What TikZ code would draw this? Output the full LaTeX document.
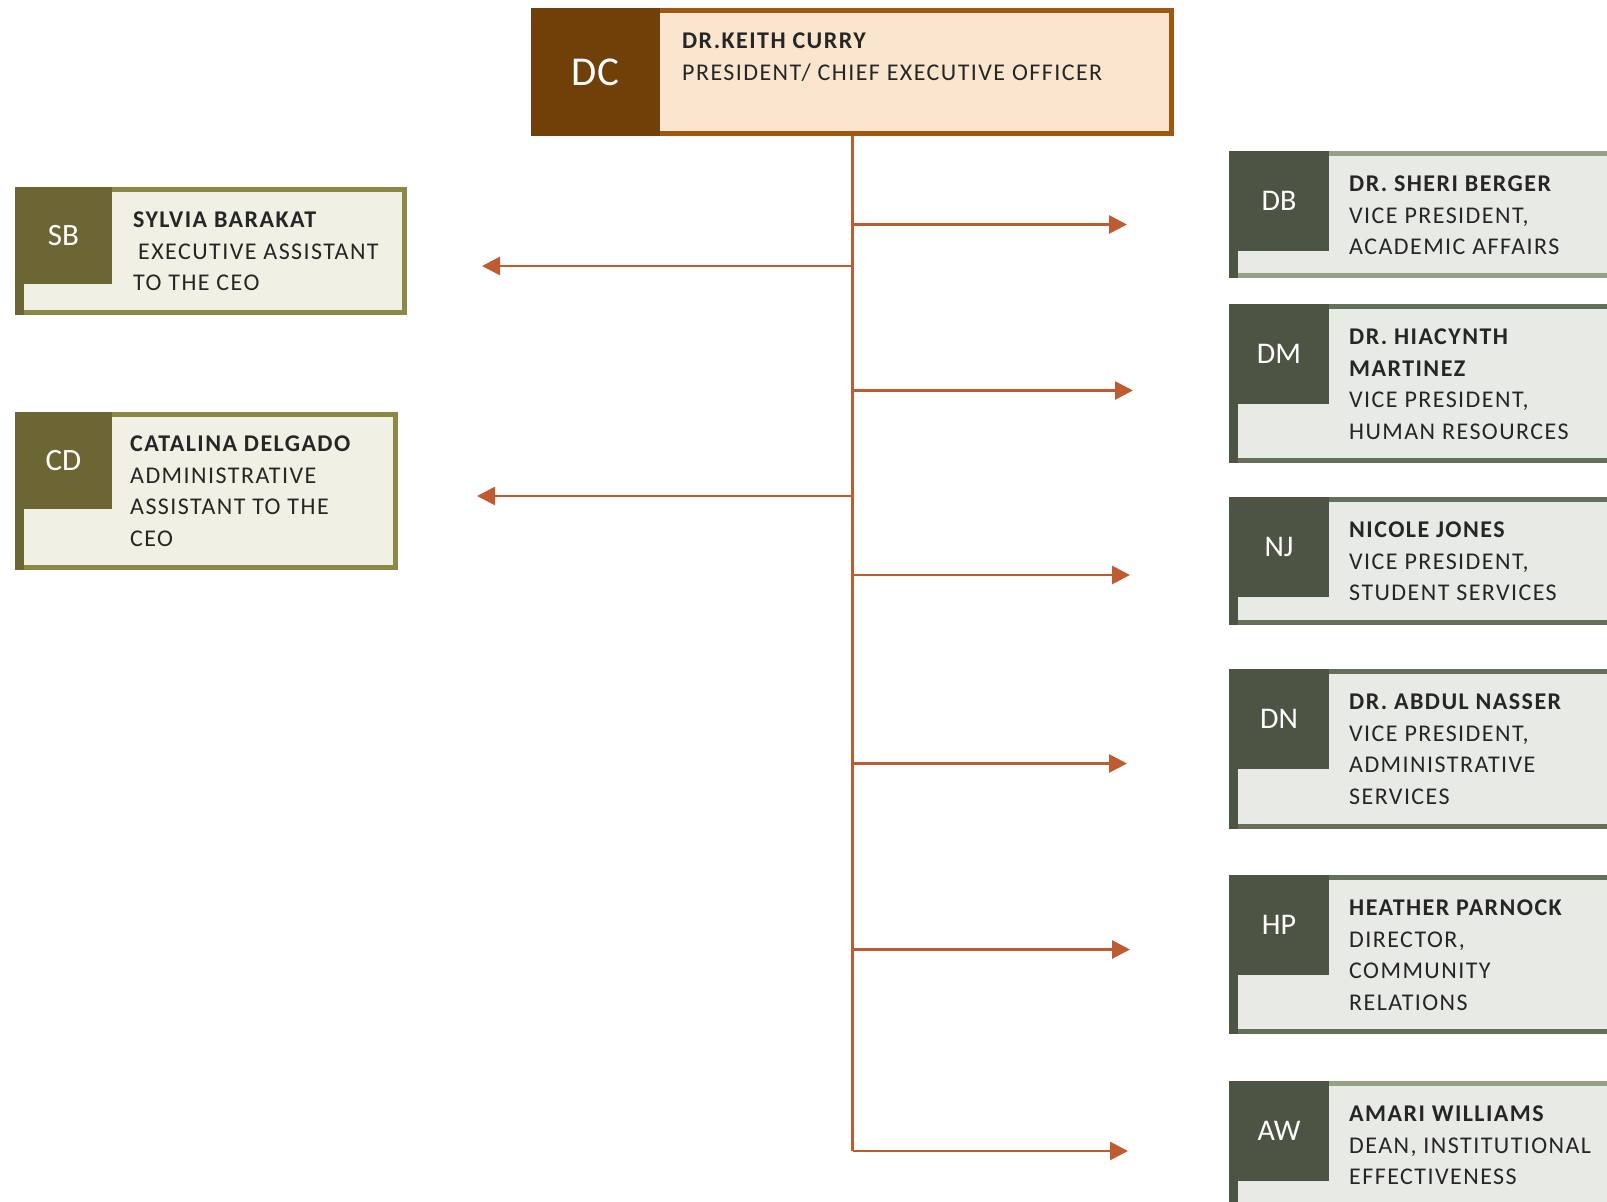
\documentclass[tikz,border=0pt]{standalone}
\usepackage{fontspec, tikz, xcolor}
\usetikzlibrary{arrows.meta, calc}
\newfontfamily\chartfont{Carlito}[LetterSpace=6]
\newfontfamily\tagfont{Carlito}
\definecolor{ceodark}{RGB}{112,64,8}
\definecolor{ceoline}{RGB}{158,88,18}
\definecolor{ceofill}{RGB}{250,230,206}
\definecolor{aidedark}{RGB}{107,102,52}
\definecolor{aideline}{RGB}{140,136,70}
\definecolor{aidefill}{RGB}{240,240,228}
\definecolor{vpdark}{RGB}{76,85,68}
\definecolor{vpline}{RGB}{100,112,90}
\definecolor{vplight}{RGB}{150,160,134}
\definecolor{vpfill}{RGB}{232,234,229}
\definecolor{wirec}{RGB}{190,91,49}
\definecolor{ink}{RGB}{38,38,38}
\tikzset{box/.style = {anchor=north west, inner sep=0pt, outer sep=2.5pt, line width=5pt}}
\tikzset{ceo/.style = {box, draw=ceoline, fill=ceofill}}
\tikzset{aide/.style = {box, draw=aideline, fill=aidefill}}
\tikzset{vp/.style = {box, draw=vpline, fill=vpfill, minimum width=420pt}}
\tikzset{tag/.style = {anchor=north west, inner sep=0pt, outer sep=0pt, text=white}}
\tikzset{aidetag/.style = {tag, fill=aidedark, minimum size=97pt, font=\tagfont\fontsize{31pt}{31pt}\selectfont}}
\tikzset{vptag/.style = {tag, fill=vpdark, minimum size=100pt, font=\tagfont\fontsize{30pt}{30pt}\selectfont}}
\tikzset{info/.style = {anchor=north west, inner sep=0pt, align=left, text=ink, font=\chartfont\fontsize{24pt}{31.5pt}\selectfont}}
\tikzset{wire/.style = {draw=wirec, line width=2.8pt}}
\tikzset{arrow/.style = {wire, -{Triangle[length=18pt, width=18pt]}}}

\begin{document}
    \begin{tikzpicture}[x=1pt, y=-1pt]
        \useasboundingbox (0,0) rectangle (1607,1202);
        \clip (0,0) rectangle (1607,1202);
        \node[ceo, minimum width=638pt, minimum height=123pt] (DC) at (531,8) {};
        \node[tag, fill=ceodark, minimum width=129pt, minimum height=128pt, font=\tagfont\fontsize{41pt}{41pt}\selectfont] (DCi) at (DC.north west) {DC};
        \node[info] (DCt) at ([shift={(151,25)}]DC.north west) {\textbf{DR.KEITH CURRY}\\PRESIDENT/ CHIEF EXECUTIVE OFFICER};

        \node[aide, minimum width=387pt, minimum height=123pt] (SB) at (15,187) {};
        \fill[aidedark] (SB.north west) rectangle ([xshift=9pt]SB.south west);
        \node[aidetag] (SBi) at (SB.north west) {SB};
        \node[info] (SBt) at ([shift={(118,25)}]SB.north west) {\textbf{SYLVIA BARAKAT}\\\hspace*{5pt}EXECUTIVE ASSISTANT\\TO THE CEO};

        \node[aide, minimum width=378pt, minimum height=153pt] (CD) at (15,412) {};
        \fill[aidedark] (CD.north west) rectangle ([xshift=9pt]CD.south west);
        \node[aidetag] (CDi) at (CD.north west) {CD};
        \node[info] (CDt) at ([shift={(115,24)}]CD.north west) {\textbf{CATALINA DELGADO}\\ADMINISTRATIVE\\ASSISTANT TO THE\\CEO};

        \node[vp, draw=vplight, minimum height=122pt] (DB) at (1229,151) {};
        \fill[vpdark] (DB.north west) rectangle ([xshift=9pt]DB.south west);
        \node[vptag] (DBi) at (DB.north west) {DB};
        \node[info] (DBt) at ([shift={(120,25)}]DB.north west) {\textbf{DR. SHERI BERGER}\\VICE PRESIDENT,\\ACADEMIC AFFAIRS};

        \node[vp, minimum height=154pt] (DM) at (1229,304) {};
        \fill[vpdark] (DM.north west) rectangle ([xshift=9pt]DM.south west);
        \node[vptag] (DMi) at (DM.north west) {DM};
        \node[info] (DMt) at ([shift={(120,25)}]DM.north west) {\textbf{DR. HIACYNTH}\\\textbf{MARTINEZ}\\VICE PRESIDENT,\\HUMAN RESOURCES};

        \node[vp, minimum height=123pt] (NJ) at (1229,497) {};
        \fill[vpdark] (NJ.north west) rectangle ([xshift=9pt]NJ.south west);
        \node[vptag] (NJi) at (NJ.north west) {NJ};
        \node[info] (NJt) at ([shift={(120,25)}]NJ.north west) {\textbf{NICOLE JONES}\\VICE PRESIDENT,\\STUDENT SERVICES};

        \node[vp, minimum height=155pt] (DN) at (1229,669) {};
        \fill[vpdark] (DN.north west) rectangle ([xshift=9pt]DN.south west);
        \node[vptag] (DNi) at (DN.north west) {DN};
        \node[info] (DNt) at ([shift={(120,25)}]DN.north west) {\textbf{DR. ABDUL NASSER}\\VICE PRESIDENT,\\ADMINISTRATIVE\\SERVICES};

        \node[vp, minimum height=154pt] (HP) at (1229,875) {};
        \fill[vpdark] (HP.north west) rectangle ([xshift=9pt]HP.south west);
        \node[vptag] (HPi) at (HP.north west) {HP};
        \node[info] (HPt) at ([shift={(120,25)}]HP.north west) {\textbf{HEATHER PARNOCK}\\DIRECTOR,\\COMMUNITY\\RELATIONS};

        \node[vp, draw=vplight, minimum height=122pt] (AW) at (1229,1081) {};
        \fill[vpdark] (AW.north west) rectangle ([xshift=9pt]AW.south west);
        \node[vptag] (AWi) at (AW.north west) {AW};
        \node[info] (AWt) at ([shift={(120,25)}]AW.north west) {\textbf{AMARI WILLIAMS}\\DEAN, INSTITUTIONAL\\EFFECTIVENESS};

        \coordinate (tSB) at (482,266);
        \coordinate (tCD) at (477,496);
        \coordinate (tDB) at (1127,224.5);
        \coordinate (tDM) at (1133,390.5);
        \coordinate (tNJ) at (1130,575);
        \coordinate (tDN) at (1127,763.5);
        \coordinate (tHP) at (1130,949.5);
        \coordinate (tAW) at (1128,1151);
        \draw[wire] (DC.south) -- (DC.south |- tAW);
        \draw[arrow] (DC.south |- tSB) -- (tSB);
        \draw[arrow] (DC.south |- tCD) -- (tCD);
        \draw[arrow] (DC.south |- tDB) -- (tDB);
        \draw[arrow] (DC.south |- tDM) -- (tDM);
        \draw[arrow] (DC.south |- tNJ) -- (tNJ);
        \draw[arrow] (DC.south |- tDN) -- (tDN);
        \draw[arrow] (DC.south |- tHP) -- (tHP);
        \draw[arrow] (DC.south |- tAW) -- (tAW);
    \end{tikzpicture}
\end{document}
